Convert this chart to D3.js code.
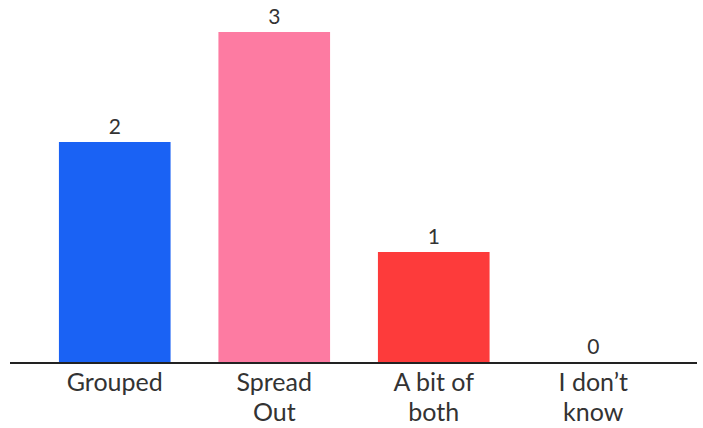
<!DOCTYPE html>
<html><head><meta charset="utf-8">
<script src="https://cdn.jsdelivr.net/npm/d3@7"></script>
<style>body{margin:0;background:#fff}svg{display:block}</style>
</head><body><svg id="c" width="703" height="428"></svg>
<script>
const categories = [["Grouped"], ["Spread", "Out"], ["A bit of", "both"], ["I don\u2019t", "know"]];
const values = [2, 3, 1, 0];
const colors = ["#1a62f4", "#fd7ba2", "#fd3b3b", "#999999"];

const svg = d3.select("#c");
const x = d3.scaleBand().domain(d3.range(values.length)).range([35, 673]).paddingInner(0.3).paddingOuter(0.15);
const y = d3.scaleLinear().domain([0, 3]).range([362, 32]);

svg.selectAll("rect.bar").data(values).join("rect")
  .attr("class", "bar")
  .attr("x", (d, i) => x(i)).attr("width", x.bandwidth())
  .attr("y", d => y(d)).attr("height", d => y(0) - y(d))
  .attr("fill", (d, i) => colors[i]);

svg.selectAll("text.val").data(values).join("text")
  .attr("class", "val")
  .attr("x", (d, i) => x(i) + x.bandwidth() / 2)
  .attr("y", d => y(d) - 8)
  .attr("text-anchor", "middle")
  .attr("font-family", "Lato, 'Open Sans', sans-serif")
  .attr("font-size", 21).attr("fill", "#333")
  .text(d => d);

svg.append("line").attr("x1", 10).attr("x2", 697).attr("y1", y(0) + 1).attr("y2", y(0) + 1)
  .attr("stroke", "#222").attr("stroke-width", 2);

const lab = svg.selectAll("text.cat").data(categories).join("text")
  .attr("class", "cat")
  .attr("text-anchor", "middle")
  .attr("font-family", "Lato, 'Open Sans', sans-serif")
  .attr("font-size", 25).attr("fill", "#333");
lab.selectAll("tspan").data((d, i) => d.map(t => ({t, i}))).join("tspan")
  .attr("x", d => x(d.i) + x.bandwidth() / 2)
  .attr("y", (d, j) => 391 + j * 30)
  .text(d => d.t);
</script></body></html>
